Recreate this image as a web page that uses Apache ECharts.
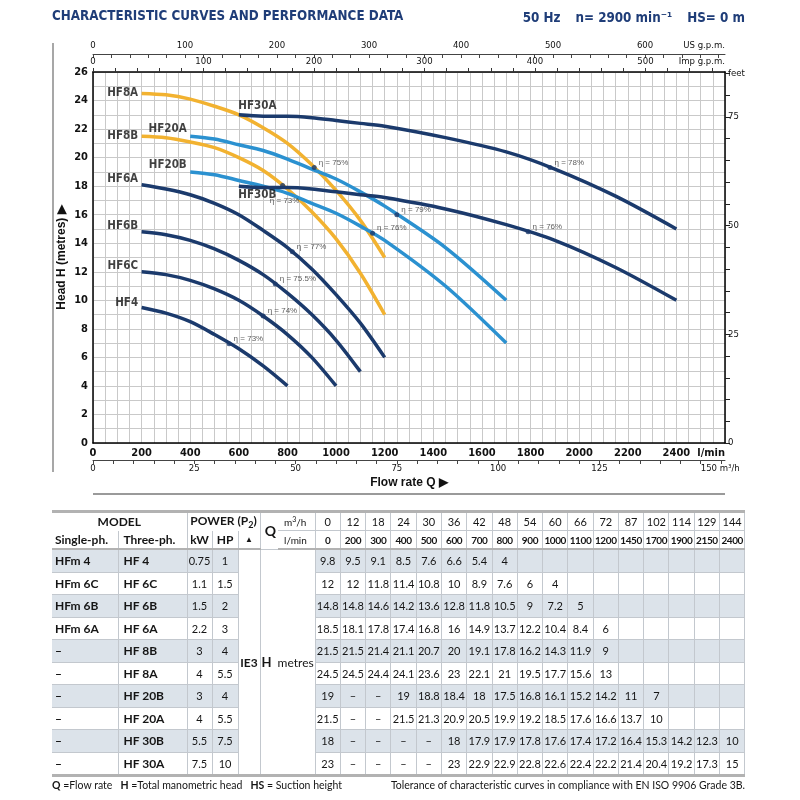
<!DOCTYPE html>
<html>
<head>
<meta charset="UTF-8">
<title>HF characteristic curves</title>
<script src="https://cdn.jsdelivr.net/npm/echarts@6.0.0/dist/echarts.min.js"></script>
<style>
    body { margin: 0; background: #fff; }
    #wrap { position: relative; width: 800px; height: 800px; overflow: hidden; }
    #chart { position: absolute; left: 0; top: 0; width: 800px; height: 800px; }
    #tbl { position: absolute; left: 52px; top: 510px; width: 693px; border-collapse: collapse; table-layout: fixed;
           font-family: Lato, 'Open Sans', sans-serif; font-size: 11px; color: #151515; }
    #tbl td { padding: 0; text-align: center; border: 1px solid #c3c8ce; white-space: nowrap; overflow: hidden; }
    #tbl td:first-child { border-left: none; }
    #tbl tr.hd1 td { height: 17px; border-top: 3px solid #b2b2b2; border-bottom: none; }
    #tbl tr.hd1 td.n, #tbl tr.hd1 td.unit { border-bottom: 1px solid #c3c8ce; }
    #tbl tr.hd2 td { height: 17px; border-top: none; border-bottom: 2px solid #b2b2b2; }
    #tbl tr.dr td { height: 21.5px; }
    #tbl tr.last td { border-bottom: 3px solid #b2b2b2; }
    #tbl tr.sh td { background: #dce3ea; }
    #tbl td.ie3, #tbl td.hm { background: #fff !important; font-size: 12px; border-bottom: 3px solid #b2b2b2; }
    #tbl td.b { font-weight: bold; font-size: 12px; }
    #tbl td.l { text-align: left; padding-left: 3px; }
    #tbl td.l2 { text-align: left; padding-left: 5px; }
    #tbl td.q { font-weight: bold; font-size: 14px; border-right: none; text-align: right; padding-right: 2px; }
    #tbl td.unit { text-align: left; padding-left: 6px; border-left: none; font-size: 10px; }
    #tbl td.tri { font-size: 8px; }
    #tbl td.bf { font-weight: bold; font-size: 10px; letter-spacing: -0.4px; }
    #tbl td.ie3 { font-weight: bold; }
    #foot { position: absolute; left: 52px; top: 779px; width: 693px; font-family: Lato, 'Open Sans', sans-serif;
            font-size: 10.5px; color: #151515; }
    #foot .r { position: absolute; right: 0; top: 0; }
</style>
</head>
<body>
<div id="wrap">
    <div id="chart"></div>
    <table id="tbl"></table>
    <div id="foot">
        <span><b>Q</b> =Flow rate&nbsp;&nbsp; <b>H</b> =Total manometric head&nbsp;&nbsp; <b>HS</b> = Suction height</span>
        <span class="r">Tolerance of characteristic curves in compliance with EN ISO 9906 Grade 3B.</span>
    </div>
</div>
<script>
    // flow points of the performance table
    var flowLpm = [0, 200, 300, 400, 500, 600, 700, 800, 900, 1000, 1100, 1200, 1450, 1700, 1900, 2150, 2400];
    var flowM3h = [0, 12, 18, 24, 30, 36, 42, 48, 54, 60, 66, 72, 87, 102, 114, 129, 144];

    var modelSingle = ['HFm 4', 'HFm 6C', 'HFm 6B', 'HFm 6A', '–', '–', '–', '–', '–', '–'];
    var modelThree = ['HF 4', 'HF 6C', 'HF 6B', 'HF 6A', 'HF 8B', 'HF 8A', 'HF 20B', 'HF 20A', 'HF 30B', 'HF 30A'];
    var curveNames = ['HF4', 'HF6C', 'HF6B', 'HF6A', 'HF8B', 'HF8A', 'HF20B', 'HF20A', 'HF30B', 'HF30A'];
    var powerKW = ['0.75', '1.1', '1.5', '2.2', '3', '4', '3', '4', '5.5', '7.5'];
    var powerHP = ['1', '1.5', '2', '3', '4', '5.5', '4', '5.5', '7.5', '10'];

    // head H (m) per model, same order as flowLpm
    var headHF4 = [9.8, 9.5, 9.1, 8.5, 7.6, 6.6, 5.4, 4];
    var headHF6C = [12, 12, 11.8, 11.4, 10.8, 10, 8.9, 7.6, 6, 4];
    var headHF6B = [14.8, 14.8, 14.6, 14.2, 13.6, 12.8, 11.8, 10.5, 9, 7.2, 5];
    var headHF6A = [18.5, 18.1, 17.8, 17.4, 16.8, 16, 14.9, 13.7, 12.2, 10.4, 8.4, 6];
    var headHF8B = [21.5, 21.5, 21.4, 21.1, 20.7, 20, 19.1, 17.8, 16.2, 14.3, 11.9, 9];
    var headHF8A = [24.5, 24.5, 24.4, 24.1, 23.6, 23, 22.1, 21, 19.5, 17.7, 15.6, 13];
    var headHF20B = [19, '–', '–', 19, 18.8, 18.4, 18, 17.5, 16.8, 16.1, 15.2, 14.2, 11, 7];
    var headHF20A = [21.5, '–', '–', 21.5, 21.3, 20.9, 20.5, 19.9, 19.2, 18.5, 17.6, 16.6, 13.7, 10];
    var headHF30B = [18, '–', '–', '–', '–', 18, 17.9, 17.9, 17.8, 17.6, 17.4, 17.2, 16.4, 15.3, 14.2, 12.3, 10];
    var headHF30A = [23, '–', '–', '–', '–', 23, 22.9, 22.9, 22.8, 22.6, 22.4, 22.2, 21.4, 20.4, 19.2, 17.3, 15];
    var heads = [headHF4, headHF6C, headHF6B, headHF6A, headHF8B, headHF8A, headHF20B, headHF20A, headHF30B, headHF30A];

    // best efficiency points
    var effFlow = [560, 700, 750, 820, 780, 910, 1150, 1250, 1790, 1880];
    var effHead = [6.95, 8.9, 11.15, 13.4, 18.05, 19.3, 14.7, 16.0, 14.8, 19.3];
    var effText = ['η = 73%', 'η = 74%', 'η = 75.5%', 'η = 77%', 'η = 73%', 'η = 75%', 'η = 76%', 'η = 79%', 'η = 76%', 'η = 78%'];

    // tick labels of the secondary scales
    var lpmLabels = [0, 200, 400, 600, 800, 1000, 1200, 1400, 1600, 1800, 2000, 2200, 2400];
    var m3hLabels = [0, 25, 50, 75, 100, 125, 150];
    var usLabels = [0, 100, 200, 300, 400, 500, 600];
    var impLabels = [0, 100, 200, 300, 400, 500];
    var feetLabels = [0, 25, 50, 75];

    var LPM_MAX = 2600;
    var M3H_MAX = LPM_MAX * 60 / 1000;
    var US_MAX = LPM_MAX / 3.785411784;
    var IMP_MAX = LPM_MAX / 4.54609;
    var H_MAX = 26;
    var FT_MAX = H_MAX / 0.3048;

    function steps(max, step) {
        var out = [];
        for (var v = 0; v <= max + 1e-9; v += step) out.push(v);
        return out;
    }

    var navy = '#1b3a6c', blue = '#2b91d0', gold = '#f2b230';
    var curveColors = [navy, navy, navy, navy, gold, gold, blue, blue, navy, navy];
    var labelPlace = [
        {position: 'left', offset: [0, -4]},
        {position: 'left', offset: [0, -6]},
        {position: 'left', offset: [0, -6]},
        {position: 'left', offset: [0, -6]},
        {position: 'left', offset: [0, 0]},
        {position: 'left', offset: [0, 0]},
        {position: 'left', offset: [0, -7]},
        {position: 'left', offset: [0, -7]},
        {position: [0, 3]},
        {position: [0, -14]}
    ];
    var narrow = "'DejaVu Sans Condensed', 'Liberation Sans Narrow', sans-serif";

    var series = [];
    var labelData = [];
    heads.forEach(function (h, i) {
        var pts = [];
        for (var j = 1; j < h.length; j++) {
            if (typeof h[j] === 'number') pts.push([flowLpm[j], h[j]]);
        }
        series.push({
            type: 'line', name: curveNames[i], data: pts, smooth: 0.3,
            symbol: 'none', lineStyle: {width: 3.5, color: curveColors[i]}, z: 2
        });
        labelData.push({
            value: pts[0],
            label: Object.assign({show: true, formatter: curveNames[i]}, labelPlace[i])
        });
    });
    series.push({
        type: 'scatter', data: labelData, symbolSize: 1, itemStyle: {color: 'rgba(0,0,0,0)'}, z: 5,
        label: {color: '#111', fontFamily: narrow, fontWeight: 'bold', fontSize: 11.5, distance: 3}
    });
    series.push({
        type: 'scatter', z: 6, symbolSize: 5, itemStyle: {color: navy},
        data: effFlow.map(function (x, i) {
            var d = {value: [x, effHead[i]]};
            if (i === 4) d.label = {position: 'bottom', distance: 9, offset: [2, 0]};
            return d;
        }),
        label: {
            show: true, position: 'right', distance: 2, offset: [0, -5], fontSize: 8, color: '#333',
            fontFamily: 'Liberation Sans, sans-serif',
            formatter: function (p) { return effText[p.dataIndex]; }
        }
    });

    var chart = echarts.init(document.getElementById('chart'), null, {renderer: 'canvas'});
    var tickFont = {color: '#111', fontFamily: narrow, fontSize: 9.5};
    var option = {
        animation: false,
        title: [
            {
                text: 'CHARACTERISTIC CURVES AND PERFORMANCE DATA', left: 52, top: 10, padding: 0,
                textStyle: {fontFamily: narrow, fontWeight: 'bold', fontSize: 13.3, color: '#1f3d78'}
            },
            {
                text: '{b|50 Hz}   {b|n= 2900 min⁻¹}   {r|HS= 0 m}', right: 55, top: 10, padding: 0,
                textStyle: {
                    rich: {
                        b: {fontFamily: narrow, fontWeight: 'bold', fontSize: 13.3, color: '#1f3d78'},
                        r: {fontFamily: narrow, fontSize: 13.3, color: '#1f3d78'}
                    }
                }
            }
        ],
        grid: {left: 93, right: 75, top: 72, bottom: 357, containLabel: false, outerBoundsMode: 'none'},
        xAxis: [
            {
                type: 'value', position: 'bottom', min: 0, max: LPM_MAX, interval: 200,
                axisLine: {show: true, onZero: false, lineStyle: {color: '#000', width: 1.5}},
                axisTick: {show: false},
                axisLabel: {
                    color: '#111', fontFamily: narrow, fontWeight: 'bold', fontSize: 11, margin: 5,
                    customValues: lpmLabels.concat([LPM_MAX]), alignMaxLabel: 'right',
                    formatter: function (v) { return v === LPM_MAX ? 'l/min' : v; }
                },
                splitLine: {show: true, lineStyle: {color: '#c9c9c9', width: 1}},
                minorTick: {show: false, splitNumber: 4},
                minorSplitLine: {show: true, lineStyle: {color: '#c9c9c9', width: 1}}
            },
            {
                type: 'value', position: 'bottom', offset: 17, min: 0, max: M3H_MAX,
                axisLine: {show: true, onZero: false, lineStyle: {color: '#444', width: 1}},
                axisTick: {show: true, length: 4, customValues: steps(M3H_MAX, 5), lineStyle: {color: '#444'}},
                axisLabel: Object.assign({}, tickFont, {
                    margin: 4, customValues: m3hLabels, alignMaxLabel: 'left',
                    formatter: function (v) { return v === 150 ? '150 m³/h' : v; }
                }),
                splitLine: {show: false},
                name: 'Flow rate Q ▶', nameLocation: 'middle', nameGap: 17,
                nameTextStyle: {fontFamily: 'Liberation Sans, sans-serif', fontWeight: 'bold', fontSize: 12, color: '#111'}
            },
            {
                type: 'value', position: 'top', offset: 0, min: 0, max: IMP_MAX,
                axisLine: {show: true, onZero: false, lineStyle: {color: '#000', width: 1.5}},
                axisTick: {show: true, length: 4, customValues: steps(IMP_MAX, 20), lineStyle: {color: '#333'}},
                axisLabel: Object.assign({}, tickFont, {
                    margin: 5, customValues: impLabels.concat([IMP_MAX]), alignMaxLabel: 'right', showMaxLabel: true,
                    formatter: function (v) { return v > 550 ? 'Imp g.p.m.' : v; }
                }),
                splitLine: {show: false}
            },
            {
                type: 'value', position: 'top', offset: 18, min: 0, max: US_MAX,
                axisLine: {show: true, onZero: false, lineStyle: {color: '#444', width: 1}},
                axisTick: {show: true, inside: true, length: 4, customValues: steps(US_MAX, 20), lineStyle: {color: '#444'}},
                axisLabel: Object.assign({}, tickFont, {
                    margin: 3, customValues: usLabels.concat([US_MAX]), alignMaxLabel: 'right', showMaxLabel: true,
                    formatter: function (v) { return v > 650 ? 'US g.p.m.' : v; }
                }),
                splitLine: {show: false}
            }
        ],
        yAxis: [
            {
                type: 'value', position: 'left', min: 0, max: H_MAX, interval: 2,
                axisLine: {show: true, onZero: false, lineStyle: {color: '#000', width: 1.5}},
                axisTick: {show: false},
                axisLabel: {color: '#111', fontFamily: narrow, fontWeight: 'bold', fontSize: 11, margin: 5},
                splitLine: {show: true, lineStyle: {color: '#c9c9c9', width: 1}},
                minorTick: {show: false, splitNumber: 2},
                minorSplitLine: {show: true, lineStyle: {color: '#c9c9c9', width: 1}},
                name: 'Head H (metres) ▶', nameLocation: 'middle', nameGap: 25, nameRotate: 90,
                nameMoveOverlap: false,
                nameTextStyle: {fontFamily: 'Liberation Sans, sans-serif', fontWeight: 'bold', fontSize: 12, color: '#111'}
            },
            {
                type: 'value', position: 'right', min: 0, max: FT_MAX,
                axisLine: {show: true, onZero: false, lineStyle: {color: '#000', width: 1.5}},
                axisTick: {show: true, length: 5, customValues: steps(FT_MAX, 5), lineStyle: {color: '#222'}},
                axisLabel: Object.assign({}, tickFont, {
                    margin: 3, customValues: feetLabels.concat([85]),
                    formatter: function (v) { return v === 85 ? 'feet' : v; }
                }),
                splitLine: {show: false}
            }
        ],
        graphic: [
            {type: 'line', shape: {x1: 53, y1: 43, x2: 53, y2: 472}, style: {stroke: '#8a8a8a', lineWidth: 1.5}},
            {type: 'line', shape: {x1: 93, y1: 494, x2: 725, y2: 494}, style: {stroke: '#9a9a9a', lineWidth: 2}}
        ],
        series: series
    };
    chart.setOption(option);

    // performance table
    var html = '<colgroup><col style="width:66px"><col style="width:69px"><col style="width:25px">' +
        '<col style="width:26px"><col style="width:22px"><col style="width:18px"><col style="width:37px">';
    flowLpm.forEach(function () { html += '<col style="width:25.29px">'; });
    html += '</colgroup>';
    html += '<tr class="hd1"><td colspan="2" class="b">MODEL</td><td colspan="3" class="b">POWER (P<sub style="font-size:9px">2</sub>)</td>' +
        '<td rowspan="2" class="q">Q</td><td class="unit">m<sup style="font-size:7px">3</sup>/h</td>';
    flowM3h.forEach(function (v) { html += '<td class="n">' + v + '</td>'; });
    html += '</tr><tr class="hd2"><td class="b l">Single-ph.</td><td class="b l2">Three-ph.</td><td class="b">kW</td>' +
        '<td class="b">HP</td><td class="tri">▲</td><td class="unit">l/min</td>';
    flowLpm.forEach(function (v) { html += '<td class="bf">' + v + '</td>'; });
    html += '</tr>';
    modelThree.forEach(function (m, i) {
        var cls = 'dr' + (i % 2 === 0 ? ' sh' : '') + (i === modelThree.length - 1 ? ' last' : '');
        html += '<tr class="' + cls + '"><td class="b l">' + modelSingle[i] + '</td><td class="b l2">' + m + '</td>' +
            '<td>' + powerKW[i] + '</td><td>' + powerHP[i] + '</td>';
        if (i === 0) {
            html += '<td rowspan="' + modelThree.length + '" class="ie3">IE3</td>' +
                '<td rowspan="' + modelThree.length + '" colspan="2" class="hm"><b style="font-size:13px">H</b>&nbsp; metres</td>';
        }
        for (var j = 0; j < flowLpm.length; j++) {
            var v = heads[i][j];
            html += '<td>' + (v === undefined ? '' : v) + '</td>';
        }
        html += '</tr>';
    });
    document.getElementById('tbl').innerHTML = html;
</script>
</body>
</html>
